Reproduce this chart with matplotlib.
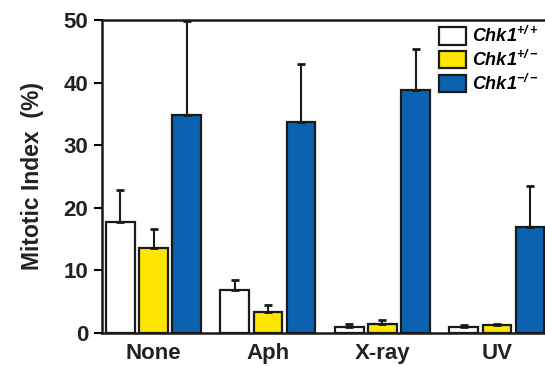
import numpy as np
import matplotlib.pyplot as plt

plt.rcParams['font.family'] = 'Liberation Sans'
plt.rcParams['font.weight'] = 'bold'
plt.rcParams['mathtext.fontset'] = 'custom'
plt.rcParams['mathtext.it'] = 'Liberation Sans:italic:bold'
plt.rcParams['mathtext.rm'] = 'Liberation Sans:italic:bold'
plt.rcParams['mathtext.default'] = 'rm'

# data
treatments = ['None', 'Aph', 'X-ray', 'UV']
genotypes = [r'Chk1$^{+/+}$', r'Chk1$^{+/-}$', r'Chk1$^{-/-}$']
wt_mean = [17.8, 6.9, 1.0, 1.0]
wt_err = [5.0, 1.5, 0.4, 0.2]
het_mean = [13.6, 3.4, 1.5, 1.2]
het_err = [3.0, 1.0, 0.6, 0.3]
ko_mean = [34.8, 33.7, 38.8, 17.0]
ko_err = [15.0, 9.2, 6.5, 6.5]
colors = ['white', '#FFE600', '#0A62B0']

fig = plt.figure(figsize=(5.45, 3.66), dpi=100)
ax = fig.add_axes([102 / 545, 1 - 333 / 366, 1 - 102 / 545, 313 / 366])

x = np.arange(len(treatments))
step = 0.29
width = 0.25
means = [wt_mean, het_mean, ko_mean]
errs = [wt_err, het_err, ko_err]
for i in range(3):
    ax.bar(x + (i - 1) * step, means[i], width, color=colors[i], edgecolor='#1a1a1a',
           linewidth=1.6, label=genotypes[i],
           yerr=[np.zeros(4), errs[i]], capsize=3,
           error_kw=dict(ecolor='#1a1a1a', elinewidth=1.5, capthick=2))

ax.set_xlim(-0.45, 3.42)
ax.set_ylim(0, 50)
ax.set_yticks([0, 10, 20, 30, 40, 50])
ax.set_xticks(x)
ax.set_xticklabels(treatments)
ax.tick_params(axis='x', length=0, pad=7, labelsize=16)
ax.tick_params(axis='y', direction='out', length=6, width=1.5, labelsize=16, pad=4)
for lab in ax.get_xticklabels() + ax.get_yticklabels():
    lab.set_fontweight('bold')
    lab.set_color('#222222')
ax.spines['right'].set_visible(False)
for s in ['left', 'bottom', 'top']:
    ax.spines[s].set_linewidth(1.8)
    ax.spines[s].set_color('#1a1a1a')

ax.set_ylabel('Mitotic Index  (%)', fontsize=16.5, fontweight='bold', labelpad=14, color='#222222')

ax.legend(loc='upper right', bbox_to_anchor=(1.01, 1.015), frameon=False,
          prop=dict(size=13, style='italic', weight='bold'),
          handlelength=1.5, handleheight=1.1, handletextpad=0.35, labelspacing=0.2,
          borderaxespad=0.2)

fig.savefig('out.png', dpi=100)
